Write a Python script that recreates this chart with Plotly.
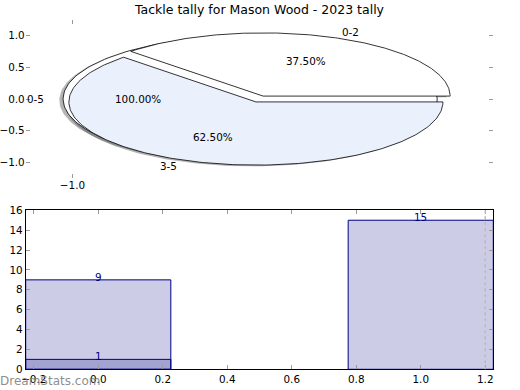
import numpy as np
import plotly.graph_objects as go

# ---------------- data ----------------
title = "Tackle tally for Mason Wood - 2023 tally"

outer_labels = ["0-5"]
outer_values = [24]
outer_colors = ["#ffffff"]

pie_labels = ["0-2", "3-5"]
pie_values = [9, 15]
pie_colors = ["#ffffff", "#eaf0fc"]

explode = 0.05

bar_x = [0, 1]
bar_values = [9, 15]
overlay_x = [0]
overlay_values = [1]

pie_yticks = [-1.0, -0.5, 0.0, 0.5, 1.0]
pie_xticks = [-1.0]
bar_xticks = [-0.2, 0.0, 0.2, 0.4, 0.6, 0.8, 1.0, 1.2]
bar_yticks = [0, 2, 4, 6, 8, 10, 12, 14, 16]
grid_x = [1.2]

watermark = "DreamStats.com"

# ---------------- helpers ----------------
FONT = "DejaVu Sans"
FS = 10.4


def wedges(values, start=0.0):
    total = float(sum(values))
    out = []
    a = start
    for v in values:
        frac = v / total
        t1, t2 = a, a + 360.0 * frac
        out.append((t1, t2, frac))
        a = t2
    return out


def wedge_xy(cx, cy, t1, t2, full):
    th = np.radians(np.linspace(t1, t2, 200))
    xs = cx + np.cos(th)
    ys = cy + np.sin(th)
    if not full:
        xs = np.concatenate([[cx], xs, [cx]])
        ys = np.concatenate([[cy], ys, [cy]])
    return xs, ys


fig = go.Figure()

groups = [
    (outer_labels, outer_values, outer_colors),
    (pie_labels, pie_values, pie_colors),
]

shapes_info = []
for labels, values, colors in groups:
    for lab, (t1, t2, frac), col in zip(labels, wedges(values), colors):
        mid = np.radians((t1 + t2) / 2)
        cx, cy = explode * np.cos(mid), explode * np.sin(mid)
        full = frac >= 0.9999
        shapes_info.append((lab, t1, t2, frac, col, cx, cy, full, mid))

# shadows
for lab, t1, t2, frac, col, cx, cy, full, mid in shapes_info:
    xs, ys = wedge_xy(cx - 0.02, cy - 0.02, t1, t2, full)
    fig.add_trace(go.Scatter(x=xs, y=ys, mode="lines", fill="toself",
                             fillcolor="rgba(77,77,77,0.42)",
                             line=dict(width=0), hoverinfo="skip",
                             showlegend=False, xaxis="x", yaxis="y"))
# wedges
for lab, t1, t2, frac, col, cx, cy, full, mid in shapes_info:
    xs, ys = wedge_xy(cx, cy, t1, t2, full)
    fig.add_trace(go.Scatter(x=xs, y=ys, mode="lines", fill="toself",
                             fillcolor=col,
                             line=dict(width=0.8, color="black"),
                             hoverinfo="skip", showlegend=False,
                             xaxis="x", yaxis="y"))

annotations = []
for lab, t1, t2, frac, col, cx, cy, full, mid in shapes_info:
    lx = cx + 1.1 * np.cos(mid)
    ly = cy + 1.1 * np.sin(mid)
    annotations.append(dict(x=lx, y=ly, xref="x", yref="y", text=lab,
                            showarrow=False,
                            xanchor="left" if lx > 0 else "right",
                            yanchor="middle",
                            font=dict(family=FONT, size=FS, color="black"),
                            borderpad=0, borderwidth=0))
    px = cx + 0.6 * np.cos(mid)
    py = cy + 0.6 * np.sin(mid)
    annotations.append(dict(x=px, y=py, xref="x", yref="y",
                            text=f"{frac*100:.2f}%", showarrow=False,
                            xanchor="center", yanchor="middle",
                            font=dict(family=FONT, size=FS, color="black"),
                            borderpad=0, borderwidth=0))

# bars
bar_fill = "rgba(0,0,128,0.2)"
fig.add_trace(go.Bar(x=bar_x, y=bar_values, width=0.45,
                     marker=dict(color=bar_fill,
                                 line=dict(color="navy", width=1)),
                     hoverinfo="skip", showlegend=False,
                     xaxis="x2", yaxis="y2"))
fig.add_trace(go.Bar(x=overlay_x, y=overlay_values, width=0.45,
                     marker=dict(color=bar_fill,
                                 line=dict(color="navy", width=1)),
                     hoverinfo="skip", showlegend=False,
                     xaxis="x2", yaxis="y2"))

for xs, vs in [(bar_x, bar_values), (overlay_x, overlay_values)]:
    for x, v in zip(xs, vs):
        annotations.append(dict(x=x, y=v, xref="x2", yref="y2", text=str(v),
                                showarrow=False, xanchor="center",
                                yanchor="bottom", yshift=-3,
                                font=dict(family=FONT, size=FS, color="navy"),
                                borderpad=0, borderwidth=0))

annotations.append(dict(x=0, y=0, xref="paper", yref="paper", text=watermark,
                        showarrow=False, xanchor="left", yanchor="bottom",
                        yshift=2,
                        font=dict(family=FONT, size=12, color="rgba(128,128,128,0.9)"),
                        borderpad=0, borderwidth=0))

shapes = []
for gx in grid_x:
    shapes.append(dict(type="line", xref="x2", yref="y2 domain", x0=gx, x1=gx,
                       y0=0, y1=1, line=dict(color="#bbbbbb", width=1.5, dash="dot"),
                       layer="above"))

XDOM = [25.7 / 520, 493.3 / 520]
tick_common = dict(ticks="inside", ticklen=4, tickwidth=1.2, tickcolor="#9a9a9a",
                   showgrid=False, zeroline=False, automargin=False,
                   tickfont=dict(family=FONT, size=FS, color="black"))

fig.update_layout(
    width=520, height=390,
    margin=dict(l=0, r=0, t=0, b=0, pad=0, autoexpand=False),
    paper_bgcolor="white", plot_bgcolor="rgba(0,0,0,0)",
    title=dict(text=title, x=259.5 / 520, xanchor="center",
               y=1 - 10 / 390, yanchor="middle", automargin=False,
               font=dict(family=FONT, size=12.5, color="black")),
    barmode="overlay",
    xaxis=dict(domain=XDOM, range=[-1.25, 1.25], anchor="y",
               tickvals=pie_xticks, tickformat=".1f", showline=False,
               mirror="ticks", **tick_common),
    yaxis=dict(domain=[1 - 178 / 390, 1 - 20 / 390], range=[-1.25, 1.25],
               anchor="x", tickvals=pie_yticks, tickformat=".1f",
               showline=False, mirror="ticks", **tick_common),
    xaxis2=dict(domain=XDOM, range=[-0.225, 1.225], anchor="y2",
                tickvals=bar_xticks, tickformat=".1f", showline=True,
                linecolor="black", linewidth=1, mirror="allticks", **tick_common),
    yaxis2=dict(domain=[1 - 369.3 / 390, 1 - 210.3 / 390], range=[0, 16],
                anchor="x2", tickvals=bar_yticks, showline=True,
                linecolor="black", linewidth=1, mirror="allticks", **tick_common),
    annotations=annotations,
    shapes=shapes,
)

fig.write_html(
    "out.html",
    config={"displayModeBar": False},
    post_script="document.body.style.margin='0px';document.body.style.overflow='hidden';",
)
